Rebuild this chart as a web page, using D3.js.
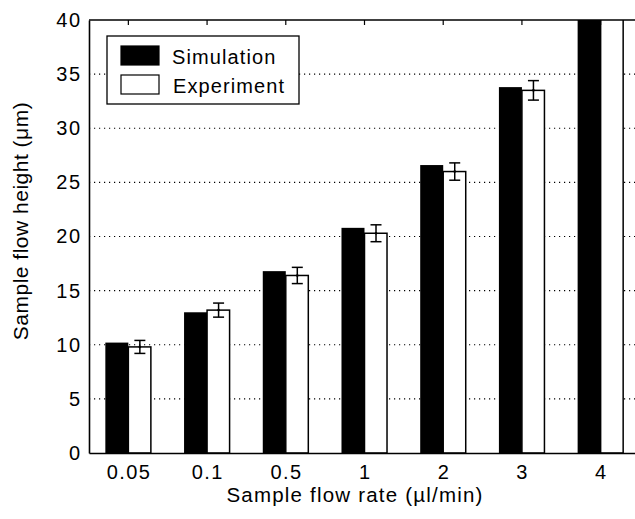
<!DOCTYPE html>
<html>
<head>
<meta charset="utf-8">
<script src="https://cdn.jsdelivr.net/npm/d3@7"></script>
<style>
  body { margin: 0; background: #fff; }
  svg { display: block; font-family: Arial, "Liberation Sans", Helvetica, sans-serif; }
</style>
</head>
<body>
<div id="chart"></div>
<script>
const categories = ["0.05", "0.1", "0.5", "1", "2", "3", "4"];
const series = ["Simulation", "Experiment"];
const simulation = [10.2, 13.0, 16.8, 20.8, 26.6, 33.8, 42.0];
const experiment = [9.8, 13.2, 16.4, 20.3, 26.0, 33.5, 42.0];
const experimentErr = [0.6, 0.65, 0.75, 0.78, 0.8, 0.9, 0.9];
const yTicks = [0, 5, 10, 15, 20, 25, 30, 35, 40];

const width = 635, height = 519;
const margin = { top: 20, left: 89, bottom: 66, right: -5 };
const x0 = margin.left, x1 = width - margin.right;
const yTop = margin.top, yBot = height - margin.bottom;
const font = "Arial, 'Liberation Sans', sans-serif";

const svg = d3.select("#chart").append("svg")
    .attr("width", width).attr("height", height);

const x = d3.scaleBand().domain(categories).range([x0, x1]).paddingInner(0).paddingOuter(0);
const xSub = d3.scaleBand().domain(series).range([0, x.bandwidth()]).paddingInner(0).paddingOuter(0.71);
const y = d3.scaleLinear().domain([0, 40]).range([yBot, yTop]);

svg.append("defs").append("clipPath").attr("id", "plot")
    .append("rect").attr("x", x0).attr("y", yTop).attr("width", x1 - x0).attr("height", yBot - yTop);

// dotted grid
svg.append("g")
    .selectAll("line").data(yTicks.filter(d => d > 0 && d < 40)).enter().append("line")
    .attr("x1", x0).attr("x2", x1)
    .attr("y1", d => y(d)).attr("y2", d => y(d))
    .attr("stroke", "#000").attr("stroke-width", 1.2)
    .attr("stroke-dasharray", "1.2,3.8");

const rows = categories.map((c, i) => ({ c, sim: simulation[i], exp: experiment[i], err: experimentErr[i] }));

const plot = svg.append("g").attr("clip-path", "url(#plot)");

plot.selectAll("rect.sim").data(rows).enter().append("rect")
    .attr("class", "sim")
    .attr("x", d => x(d.c) + xSub("Simulation"))
    .attr("width", xSub.bandwidth())
    .attr("y", d => y(d.sim))
    .attr("height", d => y(0) - y(d.sim))
    .attr("fill", "#000");

plot.selectAll("rect.exp").data(rows).enter().append("rect")
    .attr("class", "exp")
    .attr("x", d => x(d.c) + xSub("Experiment"))
    .attr("width", xSub.bandwidth() - 0.5)
    .attr("y", d => y(d.exp))
    .attr("height", d => y(0) - y(d.exp))
    .attr("fill", "#fff").attr("stroke", "#000").attr("stroke-width", 1.5);

// error bars
const eb = plot.selectAll("g.err").data(rows).enter().append("g")
    .attr("transform", d => `translate(${x(d.c) + xSub("Experiment") + xSub.bandwidth() / 2},0)`)
    .attr("stroke", "#000").attr("stroke-width", 1.5);
eb.append("line").attr("y1", d => y(d.exp - d.err)).attr("y2", d => y(d.exp + d.err));
eb.append("line").attr("x1", -5.5).attr("x2", 5.5).attr("y1", d => y(d.exp + d.err)).attr("y2", d => y(d.exp + d.err));
eb.append("line").attr("x1", -5.5).attr("x2", 5.5).attr("y1", d => y(d.exp - d.err)).attr("y2", d => y(d.exp - d.err));
eb.append("circle").attr("r", 1.3).attr("cy", d => y(d.exp)).attr("fill", "#000").attr("stroke", "none");

// axes
const axisLeft = svg.append("g").attr("transform", `translate(${x0},0)`)
    .call(d3.axisLeft(y).tickValues(yTicks).tickSize(0).tickPadding(9));
axisLeft.select(".domain").attr("stroke-width", 1.6);
axisLeft.selectAll("text").attr("font-size", 20).attr("fill", "#000")
    .attr("font-family", font).attr("letter-spacing", 1.4).attr("dx", 1.4);

const axisBottom = svg.append("g").attr("transform", `translate(0,${yBot})`)
    .call(d3.axisBottom(x).tickSize(0).tickPadding(12));
axisBottom.select(".domain").attr("stroke-width", 1.6);
axisBottom.selectAll("text").attr("font-size", 20).attr("fill", "#000")
    .attr("font-family", font).attr("letter-spacing", 1.4).attr("dx", 0.7);

// top frame with inward ticks
svg.append("line").attr("x1", x0).attr("x2", x1).attr("y1", yTop).attr("y2", yTop)
    .attr("stroke", "#000").attr("stroke-width", 1.6);
svg.append("g").selectAll("line").data(categories).enter().append("line")
    .attr("x1", d => x(d) + x.bandwidth() / 2).attr("x2", d => x(d) + x.bandwidth() / 2)
    .attr("y1", yTop).attr("y2", yTop + 5)
    .attr("stroke", "#000").attr("stroke-width", 1.2);

// axis titles
svg.append("text")
    .attr("x", 355).attr("y", 501.5)
    .attr("text-anchor", "middle").attr("font-size", 20.5).attr("letter-spacing", 1.2)
    .text("Sample flow rate (\u00b5l/min)");
svg.append("text")
    .attr("transform", "translate(28,221) rotate(-90)")
    .attr("text-anchor", "middle").attr("font-size", 21).attr("letter-spacing", 0.5)
    .text("Sample flow height (\u03bcm)");

// legend
const lg = svg.append("g").attr("transform", "translate(107,36)");
lg.append("rect").attr("width", 192).attr("height", 68)
    .attr("fill", "#fff").attr("stroke", "#000").attr("stroke-width", 1.3);
const legendFill = { Simulation: "#000", Experiment: "#fff" };
series.forEach((s, i) => {
    lg.append("rect").attr("x", 14).attr("y", 10 + i * 29).attr("width", 38).attr("height", 19)
        .attr("fill", legendFill[s]).attr("stroke", "#000").attr("stroke-width", 1.2);
    lg.append("text").attr("x", i === 0 ? 65 : 66).attr("y", 28 + i * 29)
        .attr("font-size", 20).attr("letter-spacing", 1.1).text(s);
});
</script>
</body>
</html>
